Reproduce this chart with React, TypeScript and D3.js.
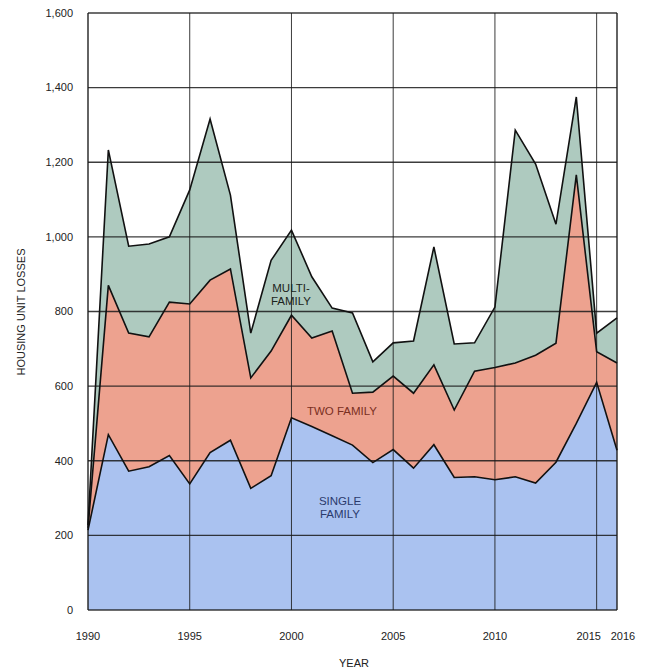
import * as d3 from 'd3';
import { useEffect, useRef } from 'react';

// housing unit losses by year
const years = [
  1990, 1991, 1992, 1993, 1994, 1995, 1996, 1997, 1998, 1999, 2000, 2001, 2002, 2003,
  2004, 2005, 2006, 2007, 2008, 2009, 2010, 2011, 2012, 2013, 2014, 2015, 2016,
];
const singleFamily = [
  214, 470, 372, 384, 414, 338, 422, 455, 326, 360, 515, 492, 467, 442, 395, 430, 380, 443,
  355, 357, 349, 357, 340, 396, 500, 610, 428,
];
const twoFamily = [
  6, 400, 370, 348, 411, 482, 462, 459, 296, 334, 275, 237, 281, 139, 189, 197, 201, 214,
  181, 283, 301, 305, 343, 319, 666, 82, 234,
];
const multiFamily = [
  8, 363, 233, 249, 175, 306, 432, 198, 120, 243, 228, 164, 61, 215, 81, 89, 140, 316, 177,
  76, 162, 624, 512, 319, 209, 50, 121,
];
const yTicks = [0, 200, 400, 600, 800, 1000, 1200, 1400, 1600];
const xTicks = [1990, 1995, 2000, 2005, 2010, 2015, 2016];

const HousingLosses = () => {
  const ref = useRef<SVGSVGElement | null>(null);

  useEffect(() => {
    const width = 649;
    const height = 671;
    const font = '"Liberation Sans", Arial, sans-serif';

    const svg = d3.select(ref.current).attr('width', width).attr('height', height);
    svg.selectAll('*').remove();

    const x = d3.scaleLinear().domain([1990, 2016]).range([88, 617]);
    const y = d3.scaleLinear().domain([0, 1600]).range([610, 13]);

    const rows = years.map((yr, i) => ({
      year: yr,
      single: singleFamily[i],
      two: twoFamily[i],
      multi: multiFamily[i],
    }));
    const stack = d3.stack<any>().keys(['single', 'two', 'multi']);
    const layers = stack(rows);
    const fills = ['#aac2f0', '#eda28f', '#aecabf'];

    const area = d3
      .area<any>()
      .x((d) => x(d.data.year))
      .y0((d) => y(d[0]))
      .y1((d) => y(d[1]));
    const line = d3
      .line<any>()
      .x((d) => x(d.data.year))
      .y((d) => y(d[1]));

    svg
      .append('g')
      .selectAll('path')
      .data(layers)
      .join('path')
      .attr('d', (d) => area(d))
      .attr('fill', (_, i) => fills[i]);

    // grid (drawn over the fills)
    const grid = svg.append('g').attr('stroke', '#1a1a1a');
    grid
      .selectAll('line.h')
      .data(yTicks)
      .join('line')
      .attr('x1', x(1990))
      .attr('x2', x(2016))
      .attr('y1', (d) => y(d))
      .attr('y2', (d) => y(d))
      .attr('stroke-width', 1.3)
      .attr('stroke-opacity', 0.85);
    grid
      .selectAll('line.v')
      .data(xTicks)
      .join('line')
      .attr('x1', (d) => x(d))
      .attr('x2', (d) => x(d))
      .attr('y1', y(0))
      .attr('y2', y(1600))
      .attr('stroke-width', (d) => (d === 1990 || d === 2016 ? 1.6 : 1))
      .attr('stroke-opacity', 0.85);

    svg
      .append('g')
      .selectAll('path')
      .data(layers)
      .join('path')
      .attr('d', (d) => line(d))
      .attr('fill', 'none')
      .attr('stroke', '#111')
      .attr('stroke-width', 1.6)
      .attr('stroke-linejoin', 'miter');

    // tick labels
    svg
      .append('g')
      .selectAll('text')
      .data(yTicks)
      .join('text')
      .attr('x', 73)
      .attr('y', (d) => y(d))
      .attr('dy', '0.35em')
      .attr('text-anchor', 'end')
      .attr('font-family', font)
      .attr('font-size', 11)
      .attr('fill', '#222')
      .text((d) => d3.format(',')(d));

    const nudge: Record<number, number> = { 2015: -8, 2016: 6 };
    svg
      .append('g')
      .selectAll('text')
      .data(xTicks)
      .join('text')
      .attr('x', (d) => x(d) + (nudge[d] || 0))
      .attr('y', 640)
      .attr('text-anchor', 'middle')
      .attr('font-family', font)
      .attr('font-size', 11)
      .attr('fill', '#222')
      .text((d) => d);

    svg
      .append('text')
      .attr('x', 354)
      .attr('y', 667)
      .attr('text-anchor', 'middle')
      .attr('font-family', font)
      .attr('font-size', 11)
      .attr('fill', '#222')
      .text('YEAR');

    svg
      .append('text')
      .attr('transform', 'translate(25,312) rotate(-90)')
      .attr('text-anchor', 'middle')
      .attr('font-family', font)
      .attr('font-size', 11)
      .attr('fill', '#222')
      .text('HOUSING UNIT LOSSES');

    // series labels
    const labels = [
      { lines: ['MULTI-', 'FAMILY'], x: 291, y: 292, color: '#1c2420' },
      { lines: ['TWO FAMILY'], x: 342, y: 415, color: '#7a2f22' },
      { lines: ['SINGLE', 'FAMILY'], x: 340, y: 505, color: '#2a3a6c' },
    ];
    labels.forEach((l) => {
      const t = svg
        .append('text')
        .attr('text-anchor', 'middle')
        .attr('font-family', font)
        .attr('font-size', 11.5)
        .attr('fill', l.color);
      l.lines.forEach((s, i) => {
        t.append('tspan')
          .attr('x', l.x)
          .attr('y', l.y + i * 12.5)
          .text(s);
      });
    });
  }, []);

  return <svg ref={ref} style={{ position: 'absolute', left: 0, top: 0 }}></svg>;
};

export default function App() {
  return <HousingLosses />;
}
